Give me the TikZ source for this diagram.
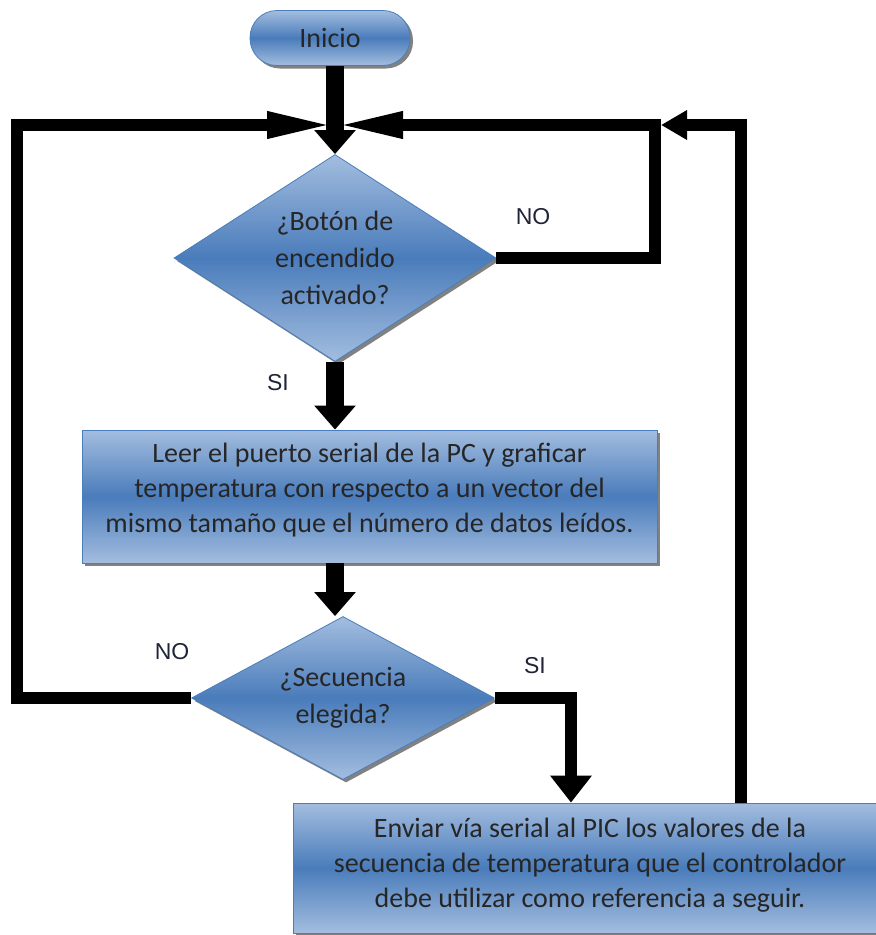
\documentclass[tikz,border=0pt]{standalone}
\usepackage{fontspec}
\setmainfont{Carlito}
\newfontfamily\labelfont{Liberation Sans}
\usetikzlibrary{shapes.geometric,arrows.meta,shadows}
\definecolor{boxlight}{HTML}{A3BDDF}
\definecolor{boxmid}{HTML}{4A7CBB}
\definecolor{boxedge}{HTML}{4A7EBB}
\definecolor{labcol}{HTML}{1F2438}
\begin{document}
\begin{tikzpicture}[x=1pt,y=-1pt,
  shapebase/.style={draw=boxedge, line width=0.8pt, top color=boxlight, bottom color=boxlight, middle color=boxmid,
    drop shadow={shadow xshift=3pt, shadow yshift=-3pt, fill=black!70, opacity=0.7},
    font=\fontsize{28}{35}\selectfont, text=black!85, align=center, inner sep=0pt},
  terminal/.style={shapebase, rounded corners=27pt, minimum width=160pt, minimum height=55pt},
  process/.style={shapebase, rectangle, font=\fontsize{28}{35}\selectfont},
  decision/.style={shapebase, diamond, inner sep=-45pt, font=\fontsize{28}{37}\selectfont},
  lab/.style={font=\labelfont\fontsize{23}{26}\selectfont, text=labcol, inner sep=0pt},
  bigarrow/.style={line width=18pt, -{Triangle[length=24pt,width=40pt]}},
  loopline/.style={line width=12pt},
  mergehead/.style={-{Triangle[length=68pt,width=24pt]}},
  ]
\useasboundingbox (0,0) rectangle (876,935);
\fill[white] (0,0) rectangle (876,935);

% nodes
\node[terminal] (inicio) at (330,38) {Inicio};
\node[decision, minimum width=322pt, minimum height=207pt] (d1) at (335,258) {¿Botón de\\encendido\\activado?};
\node[process, minimum width=575pt, minimum height=133pt] (b1) at (369.5,496.5) {\raisebox{6pt}[\height][\depth]{\begin{tabular}{@{}c@{}}Leer el puerto serial de la PC y graficar\\temperatura con respecto a un vector del\\mismo tamaño que el número de datos leídos.\end{tabular}}};
\node[decision, minimum width=303pt, minimum height=163pt] (d2) at (343,698) {¿Secuencia\\elegida?};
\node[process, minimum width=594pt, minimum height=130pt] (b2) at (590,868) {\raisebox{3pt}[\height][\depth]{\begin{tabular}{@{}c@{}}Enviar vía serial al PIC los valores de la\\secuencia de temperatura que el controlador\\debe utilizar como referencia a seguir.\end{tabular}}};

% labels
\node[lab] (no1) at (533,217) {NO};
\node[lab] (si1) at (278,383) {SI};
\node[lab] (no2) at (172,652) {NO};
\node[lab] (si2) at (535,666) {SI};

% coordinates
\coordinate (merge) at (335,125);
\coordinate (lt) at (17,125);
\coordinate (rt) at (655,125);
\coordinate (ot) at (741,125);
\coordinate (sc) at (571,700);

% loops
\draw[loopline, mergehead] (d2.west) -- (d2.west -| lt) -- (lt) -- (merge);
\draw[loopline, mergehead] (d1.east) -- (d1.east -| rt) -- (rt) -- (merge);
\draw[loopline, -{Triangle[length=26pt,width=28pt]}, shorten >=6pt] (b2.north -| ot) -- (ot) -- (rt);

% main flow
\draw[bigarrow] (inicio.south -| merge) -- (d1.north);
\draw[bigarrow] (d1.south) -- (d1.south |- b1.north);
\draw[bigarrow] (d1.south |- b1.south) -- (d1.south |- d2.north);
\draw[line width=12pt, -{Triangle[length=27pt,width=40pt]}] (d2.east) -- (d2.east -| sc) -- (sc |- b2.north);
\end{tikzpicture}
\end{document}
